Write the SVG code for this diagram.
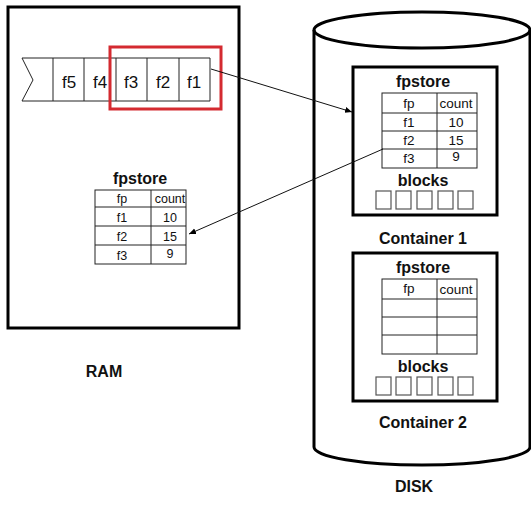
<svg xmlns="http://www.w3.org/2000/svg" width="531" height="513" viewBox="0 0 531 513">
<style>
.thick{fill:none;stroke:#000;stroke-width:3}
.grid{fill:none;stroke:#222;stroke-width:1}
.blk{fill:#fff;stroke:#555;stroke-width:1.2}
.lbl{font-family:"Liberation Sans",Arial,sans-serif;font-weight:bold;font-size:16px;fill:#111;text-anchor:middle}
.cell{font-family:"Liberation Sans",Arial,sans-serif;font-size:13.5px;fill:#111;text-anchor:middle}
.cellS{font-family:"Liberation Sans",Arial,sans-serif;font-size:12.5px;fill:#111;text-anchor:middle}
.q{font-family:"Liberation Sans",Arial,sans-serif;font-size:17px;fill:#111;text-anchor:middle}
.conn{fill:none;stroke:#111;stroke-width:1}
</style>
<defs>
<marker id="ah" markerWidth="8" markerHeight="8" refX="7" refY="4" orient="auto" markerUnits="userSpaceOnUse">
<path d="M0,1 L7,4 L0,7 Z" fill="#000"/>
</marker>
</defs>
<rect width="531" height="513" fill="#fff"/>

<g id="ram">
<rect x="8" y="7" width="231" height="321" class="thick"/>
<text x="104" y="377" class="lbl">RAM</text>
</g>

<g id="queue">
<path d="M22,58 L210,58 L210,101 L22,101 L33,80 Z" class="grid"/>
<line x1="53" y1="58" x2="53" y2="101" class="grid"/>
<line x1="84" y1="58" x2="84" y2="101" class="grid"/>
<line x1="116" y1="58" x2="116" y2="101" class="grid"/>
<line x1="147" y1="58" x2="147" y2="101" class="grid"/>
<line x1="179" y1="58" x2="179" y2="101" class="grid"/>
<text x="69" y="88" class="q">f5</text>
<text x="100" y="88" class="q">f4</text>
<text x="131" y="88" class="q">f3</text>
<text x="163" y="88" class="q">f2</text>
<text x="194" y="88" class="q">f1</text>
<rect x="110" y="47" width="111" height="62" fill="none" stroke="#d42a30" stroke-width="3"/>
</g>

<g id="ram-fpstore">
<text x="140" y="184" class="lbl">fpstore</text>
<rect x="95" y="190" width="91" height="74" class="grid"/>
<line x1="151" y1="190" x2="151" y2="264" class="grid"/>
<line x1="95" y1="207" x2="186" y2="207" class="grid"/>
<line x1="95" y1="226" x2="186" y2="226" class="grid"/>
<line x1="95" y1="245" x2="186" y2="245" class="grid"/>
<text x="122" y="203" class="cellS">fp</text>
<text x="170" y="203" class="cellS">count</text>
<text x="122" y="222" class="cellS">f1</text>
<text x="170" y="222" class="cellS">10</text>
<text x="122" y="241" class="cellS">f2</text>
<text x="170" y="241" class="cellS">15</text>
<text x="122" y="260" class="cellS">f3</text>
<text x="170" y="258" class="cellS">9</text>
</g>

<g id="disk">
<path d="M314,30 L314,447 A108,18 0 0 0 530,447 L530,30" class="thick"/>
<ellipse cx="422" cy="30" rx="108" ry="18" class="thick"/>
<text x="414" y="492" class="lbl">DISK</text>
</g>

<g id="container1">
<rect x="353" y="67" width="144" height="148" class="thick"/>
<text x="423" y="87" class="lbl">fpstore</text>
<rect x="382" y="93" width="95" height="75" class="grid"/>
<line x1="437" y1="93" x2="437" y2="168" class="grid"/>
<line x1="382" y1="113" x2="477" y2="113" class="grid"/>
<line x1="382" y1="131" x2="477" y2="131" class="grid"/>
<line x1="382" y1="149" x2="477" y2="149" class="grid"/>
<text x="409" y="108" class="cell">fp</text>
<text x="456" y="108" class="cell">count</text>
<text x="409" y="127" class="cell">f1</text>
<text x="456" y="127" class="cell">10</text>
<text x="409" y="145" class="cell">f2</text>
<text x="456" y="145" class="cell">15</text>
<text x="409" y="163" class="cell">f3</text>
<text x="456" y="161" class="cell">9</text>
<text x="423" y="186" class="lbl">blocks</text>
<rect x="376" y="191" width="15" height="18" class="blk"/>
<rect x="396" y="191" width="15" height="18" class="blk"/>
<rect x="417" y="191" width="15" height="18" class="blk"/>
<rect x="438" y="191" width="15" height="18" class="blk"/>
<rect x="458" y="191" width="15" height="18" class="blk"/>
<text x="423" y="244" class="lbl">Container 1</text>
</g>

<g id="container2">
<rect x="353" y="253" width="144" height="148" class="thick"/>
<text x="423" y="273" class="lbl">fpstore</text>
<rect x="382" y="279" width="95" height="75" class="grid"/>
<line x1="437" y1="279" x2="437" y2="354" class="grid"/>
<line x1="382" y1="299" x2="477" y2="299" class="grid"/>
<line x1="382" y1="317" x2="477" y2="317" class="grid"/>
<line x1="382" y1="335" x2="477" y2="335" class="grid"/>
<text x="409" y="293" class="cell">fp</text>
<text x="456" y="294" class="cell">count</text>
<text x="423" y="372" class="lbl">blocks</text>
<rect x="376" y="377" width="15" height="18" class="blk"/>
<rect x="396" y="377" width="15" height="18" class="blk"/>
<rect x="417" y="377" width="15" height="18" class="blk"/>
<rect x="438" y="377" width="15" height="18" class="blk"/>
<rect x="458" y="377" width="15" height="18" class="blk"/>
<text x="423" y="428" class="lbl">Container 2</text>
</g>

<g id="connectors">
<line x1="211" y1="69" x2="352" y2="112" class="conn" marker-end="url(#ah)"/>
<line x1="383" y1="149" x2="189" y2="234" class="conn" marker-end="url(#ah)"/>
</g>
</svg>
